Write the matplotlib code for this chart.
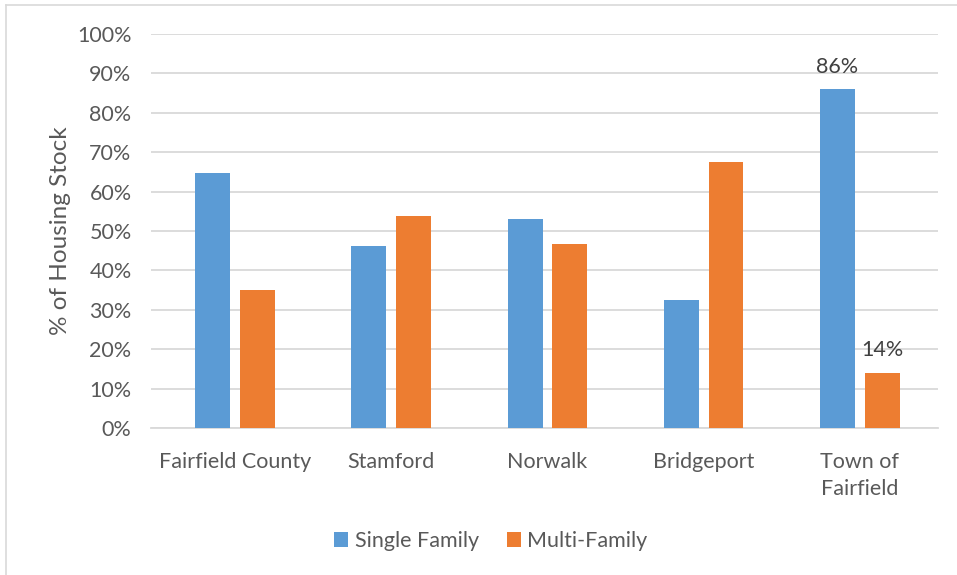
import matplotlib

matplotlib.use("Agg")
import matplotlib.pyplot as plt
import numpy as np
from matplotlib.lines import Line2D
from matplotlib.patches import Patch

CATEGORIES = ["Fairfield County", "Stamford", "Norwalk", "Bridgeport", "Town of\nFairfield"]
SINGLE_FAMILY = [64.8, 46.2, 53.1, 32.4, 86.0]
MULTI_FAMILY = [35.1, 53.7, 46.7, 67.4, 14.0]
SERIES_LABELS = ["Single Family", "Multi-Family"]
# only the last group carries data labels in the original
LABELLED_INDEX = 4

BLUE = "#5B9BD5"
ORANGE = "#ED7D31"
TEXT_GRAY = "#595959"
GRID_GRAY = "#D9D9D9"

BAR_WIDTH = 0.223
BAR_OFFSET = 0.143
FONT_SIZE = 15.5

plt.rcParams["font.family"] = ["Lato", "DejaVu Sans"]

fig = plt.figure(figsize=(9.57, 5.75), dpi=100)
ax = fig.add_axes([151 / 957, 0.2557, 787 / 957, 0.6853])

x = np.arange(len(CATEGORIES))
single_bars = ax.bar(x - BAR_OFFSET, SINGLE_FAMILY, width=BAR_WIDTH, color=BLUE, zorder=3)
multi_bars = ax.bar(x + BAR_OFFSET, MULTI_FAMILY, width=BAR_WIDTH, color=ORANGE, zorder=3)

for bars, values in [(single_bars, SINGLE_FAMILY), (multi_bars, MULTI_FAMILY)]:
    bar = bars[LABELLED_INDEX]
    ax.annotate(
        f"{values[LABELLED_INDEX]:.0f}%",
        (bar.get_x() + bar.get_width() / 2, bar.get_height()),
        xytext=(0, 9),
        textcoords="offset points",
        ha="center",
        va="bottom",
        fontsize=FONT_SIZE,
        color="#404040",
    )

ax.set_xlim(-0.5 - 0.038, len(CATEGORIES) - 0.5)
ax.set_ylim(0, 100)
ax.set_yticks(np.arange(0, 101, 10))
ax.set_yticklabels([f"{v}%" for v in range(0, 101, 10)], fontsize=FONT_SIZE, color=TEXT_GRAY)
ax.set_xticks(x)
ax.set_xticklabels(CATEGORIES, fontsize=FONT_SIZE, color=TEXT_GRAY, linespacing=1.45)
ax.tick_params(axis="both", length=0)
ax.tick_params(axis="y", pad=14)
ax.tick_params(axis="x", pad=17)
ax.set_ylabel("% of Housing Stock", fontsize=17.5, color=TEXT_GRAY, labelpad=4)

ax.grid(True, axis="y", color=GRID_GRAY, linewidth=1.3, zorder=0)
ax.set_axisbelow(True)
for side in ["top", "right", "left"]:
    ax.spines[side].set_visible(False)
ax.spines["bottom"].set_color(GRID_GRAY)
ax.spines["bottom"].set_linewidth(1.3)

handles = [
    Patch(facecolor=BLUE, label=SERIES_LABELS[0]),
    Patch(facecolor=ORANGE, label=SERIES_LABELS[1]),
]
fig.legend(
    handles=handles,
    loc="center",
    bbox_to_anchor=(491 / 957, 1 - 541 / 575),
    ncol=2,
    frameon=False,
    fontsize=FONT_SIZE,
    labelcolor=TEXT_GRAY,
    handlelength=0.65,
    handleheight=0.65,
    handletextpad=0.3,
    columnspacing=1.3,
)

# light chart border like the spreadsheet frame
fig.add_artist(Line2D([6 / 957, 1], [1 - 5 / 575, 1 - 5 / 575], color=GRID_GRAY, linewidth=1.2))
fig.add_artist(Line2D([6 / 957, 6 / 957], [0, 1 - 5 / 575], color=GRID_GRAY, linewidth=1.2))

fig.savefig("out.png", dpi=100, facecolor="white")
